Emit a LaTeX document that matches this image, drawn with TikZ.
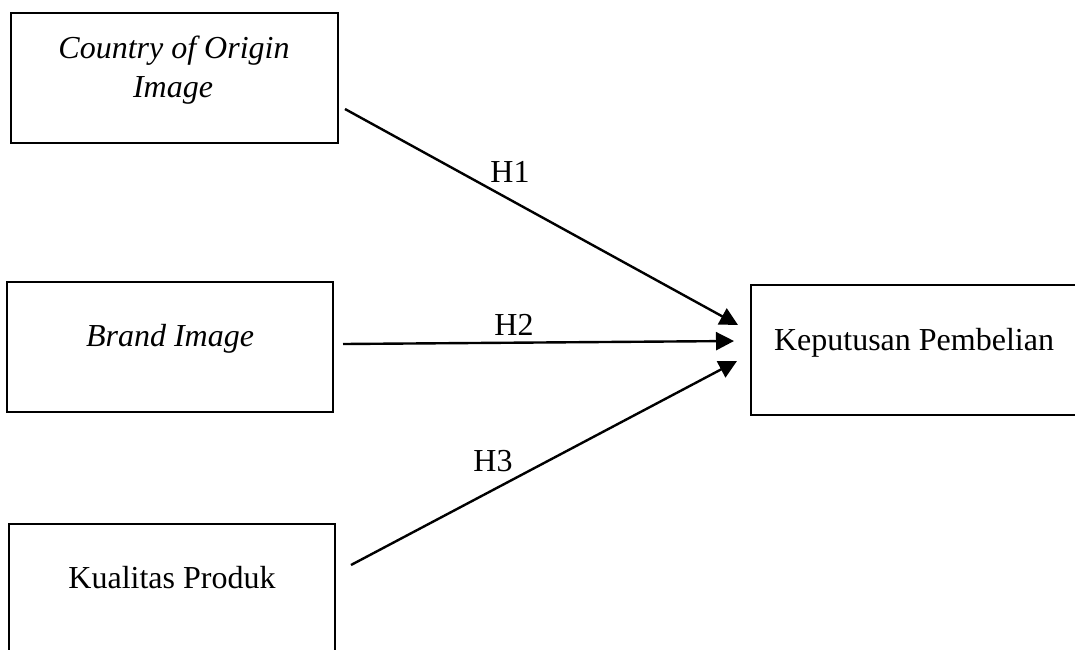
\documentclass[tikz,border=0pt]{standalone}
\usepackage{fontspec}
\setmainfont{Liberation Serif}
\usetikzlibrary{arrows.meta}
\tikzset{
  box/.style={draw=black, line width=2.6pt, rectangle, inner sep=0pt},
  txt/.style={anchor=base, inner sep=0pt, font=\fontsize{32}{38}\selectfont},
  arr/.style={line width=2.4pt, -{Triangle[length=18pt,width=18pt]}},
}
\begin{document}
\begin{tikzpicture}[x=1pt,y=-1pt]
\useasboundingbox (0,0) rectangle (1075,649);
\clip (0,0) rectangle (1075,649);
% boxes
\node[box, minimum width=327pt, minimum height=130pt] (b1) at (174.5,78) {};
\node[box, minimum width=326pt, minimum height=130pt] (b2) at (170,347) {};
\node[box, minimum width=326pt, minimum height=130pt] (b3) at (172,589) {};
\node[box, minimum width=327pt, minimum height=130pt] (b4) at (914.5,350) {};
% texts
\node[txt] (t1a) at (174,58) {\itshape Country of Origin};
\node[txt] (t1b) at (173,97) {\itshape Image};
\node[txt] (t2) at (170,346) {\itshape Brand Image};
\node[txt] (t3) at (172,588) {Kualitas Produk};
\node[txt] (t4) at (914,350) {Keputusan Pembelian};
% arrow ends
\coordinate (s1) at (345,109);
\coordinate (s2) at (343,344);
\coordinate (s3) at (351,565);
\coordinate (e1) at (738,325);
\coordinate (e2) at (734,341);
\coordinate (e3) at (737,361);
\draw[arr] (s1) -- (e1);
\draw[arr] (s2) -- (e2);
\draw[arr] (s3) -- (e3);
% labels
\node[txt] (h1) at (510,182) {H1};
\node[txt] (h2) at (514,335) {H2};
\node[txt] (h3) at (493,471) {H3};
\end{tikzpicture}
\end{document}
